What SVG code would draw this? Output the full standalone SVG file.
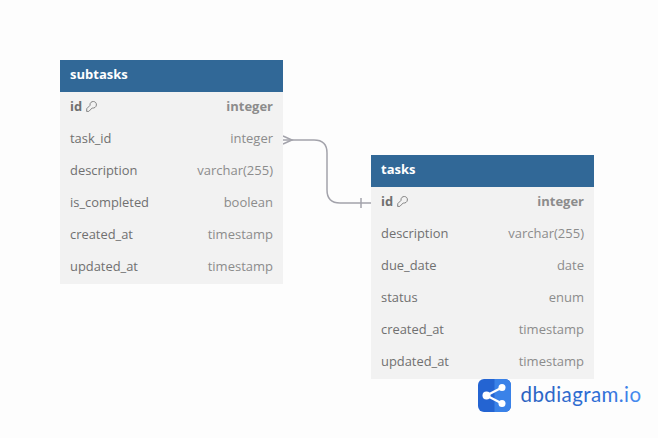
<svg xmlns="http://www.w3.org/2000/svg" width="658" height="438" viewBox="0 0 658 438">
<defs>
<linearGradient id="lg" x1="0" x2="1" y1="0" y2="0"><stop offset="0" stop-color="#2a62c0"/><stop offset="0.7" stop-color="#2f6fd8"/><stop offset="1" stop-color="#4a8ff2"/></linearGradient>
<g id="key"><path d="M0.600 10.400 L0.800 7.600 L4 4.400 C3.600 1.800 5.600 0.400 7.400 0.500 C9.400 0.600 10.600 2.200 10.400 4 C10.200 6 8.400 7.400 6.200 7 L2.800 10.400 Z" fill="none" stroke="#777" stroke-width="0.900"/></g>
</defs>
<style>
text{font-family:"Open Sans","Noto Sans",sans-serif;font-size:12.900px;fill:#707070}
.title{font-size:13px;font-weight:700;fill:#fff}
.pk{font-weight:700}
.pkt{font-weight:700;fill:#8c8c8c;font-size:13px}
.ty{text-anchor:end;fill:#8c8c8c;font-size:13px}
.body{fill:#f2f2f2}
.head{fill:#316897}
.conn{fill:none;stroke:#a3a3ab;stroke-width:1.500}
</style>
<rect width="658" height="438" fill="#fdfdfd"/>
<g id="connectors">
<path class="conn" d="M283 140 H314 Q327 140 327 153 V190 Q327 203 340 203 H371"/>
<path class="conn" d="M283 136 L292 140 L283 144" stroke-width="1.200"/>
<path class="conn" d="M361 198 V208" stroke-width="1.200"/>
</g>
<g id="subtasks">
<rect class="body" x="60" y="60" width="223" height="224"/>
<rect class="head" x="60" y="60" width="223" height="32"/>
<text class="title" x="70" y="79">subtasks</text>
<text class="pk" x="70" y="111">id</text><use href="#key" x="86" y="101"/>
<text class="ty pkt" x="273" y="111">integer</text>
<text x="70" y="143">task_id</text><text class="ty" x="273" y="143">integer</text>
<text x="70" y="175">description</text><text class="ty" x="273" y="175">varchar(255)</text>
<text x="70" y="207">is_completed</text><text class="ty" x="273" y="207">boolean</text>
<text x="70" y="239">created_at</text><text class="ty" x="273" y="239">timestamp</text>
<text x="70" y="271">updated_at</text><text class="ty" x="273" y="271">timestamp</text>
</g>
<g id="tasks">
<rect class="body" x="371" y="155" width="223" height="224"/>
<rect class="head" x="371" y="155" width="223" height="32"/>
<text class="title" x="381" y="174">tasks</text>
<text class="pk" x="381" y="206">id</text><use href="#key" x="397" y="196"/>
<text class="ty pkt" x="584" y="206">integer</text>
<text x="381" y="238">description</text><text class="ty" x="584" y="238">varchar(255)</text>
<text x="381" y="270">due_date</text><text class="ty" x="584" y="270">date</text>
<text x="381" y="302">status</text><text class="ty" x="584" y="302">enum</text>
<text x="381" y="334">created_at</text><text class="ty" x="584" y="334">timestamp</text>
<text x="381" y="366">updated_at</text><text class="ty" x="584" y="366">timestamp</text>
</g>
<g id="logo">
<rect x="478" y="379" width="33" height="33" rx="6" fill="#2464d2"/>
<path d="M494.500 379 H505 a6 6 0 0 1 6 6 V406 a6 6 0 0 1 -6 6 H494.500 Z" fill="#3a82e8"/>
<path d="M486.500 395.500 L502 387.500 M486.500 395.500 L502 403.500" stroke="#fff" stroke-width="2.200" fill="none"/>
<circle cx="486.500" cy="395.500" r="4" fill="#fff"/><circle cx="502" cy="387.500" r="3.500" fill="#fff"/><circle cx="502" cy="403.500" r="3.500" fill="#fff"/>
<text x="520.500" y="402" style="font-family:Lato,'Open Sans',sans-serif;font-size:20.500px;letter-spacing:0.420px;fill:url(#lg)">dbdiagram.io</text>
</g>
</svg>
